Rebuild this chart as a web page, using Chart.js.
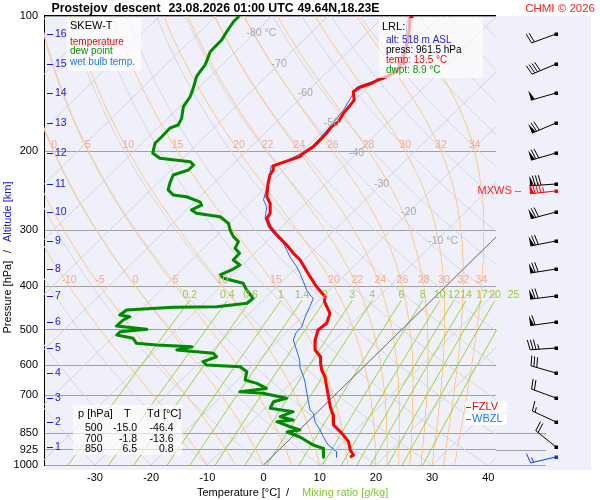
<!DOCTYPE html>
<html>
<head>
<meta charset="utf-8">
<script src="https://cdn.jsdelivr.net/npm/chart.js@4.4.1/dist/chart.umd.min.js"></script>
<style>
  html, body { margin: 0; padding: 0; background: #fff; }
  canvas { display: block; }
</style>
</head>
<body>
<canvas id="skewt" width="600" height="500"></canvas>
<script>
// axis ticks
const pressureTicks = [100, 200, 300, 400, 500, 600, 700, 850, 925, 1000];
const tempTicks = [-30, -20, -10, 0, 10, 20, 30, 40];

// sounding (hPa / °C)
const tempP = [100, 101.2, 113.1, 123.2, 129.7, 133.1, 135.3, 137.6, 138.8, 141.2, 144.1, 147.4, 153.9, 157.9, 164.8, 171.9, 176.4, 182.5, 188.8, 195.4, 202.1, 205.7, 209.2, 215.6, 220.3, 226.0, 235.9, 252.7, 261.4, 275.1, 282.2, 294.6, 307.3, 323.6, 337.7, 349.4, 380.7, 400.9, 421.8, 432.7, 459.5, 483.3, 500.4, 526.6, 554.5, 574.0, 593.7, 614.3, 635.9, 669.0, 698.3, 741.6, 773.8, 814.6, 850.0, 887.3, 926.0, 950.0, 961.5];
const tempT = [-54.9, -55.0, -51.4, -49.2, -48.0, -47.7, -48.3, -48.9, -49.5, -50.0, -51.4, -51.8, -50.1, -49.9, -49.6, -49.0, -49.3, -49.0, -48.9, -48.9, -49.5, -49.5, -50.6, -52.6, -51.8, -51.5, -50.3, -48.1, -46.3, -44.5, -44.2, -42.1, -39.4, -35.8, -33.1, -30.7, -25.9, -22.9, -19.6, -18.8, -15.7, -14.5, -14.8, -13.5, -11.7, -9.5, -8.3, -6.9, -5.1, -3.0, -1.2, 1.3, 3.3, 5.2, 8.2, 10.9, 12.7, 14.2, 14.0];

const dewP = [100, 103.0, 108.4, 113.1, 120.1, 128.5, 133.1, 136.5, 144.8, 151.3, 159.2, 169.0, 174.9, 177.8, 185.7, 192.1, 202.1, 207.4, 211.1, 214.7, 220.3, 226.0, 235.9, 244.0, 250.3, 252.7, 259.3, 263.7, 270.4, 275.1, 279.9, 289.6, 299.7, 310.1, 318.1, 329.1, 337.7, 349.4, 358.5, 367.8, 377.4, 383.8, 387.2, 393.8, 407.5, 425.3, 436.3, 444.0, 445.4, 451.6, 463.4, 467.4, 475.4, 490.3, 498.6, 504.8, 513.4, 522.2, 535.8, 540.5, 545.3, 554.5, 564.0, 574.0, 588.8, 598.9, 604.1, 619.8, 646.7, 657.8, 675.2, 687.1, 692.2, 710.2, 722.9, 747.6, 760.9, 780.6, 794.0, 800.8, 821.9, 835.5, 844.4, 866.2, 902.6, 918.0, 961.5];
const dewT = [-85.8, -85.8, -85.2, -84.6, -84.5, -83.0, -82.7, -82.4, -80.9, -79.9, -79.3, -77.5, -76.9, -77.8, -77.7, -77.7, -76.3, -74.1, -68.1, -66.9, -66.9, -68.7, -67.8, -66.9, -65.1, -62.4, -59.1, -58.2, -59.1, -57.6, -52.8, -50.1, -48.6, -46.8, -45.0, -44.4, -42.7, -42.6, -40.5, -41.1, -42.2, -41.0, -39.5, -36.6, -34.8, -32.1, -32.3, -37.1, -44.7, -52.5, -52.8, -50.7, -51.3, -51.4, -45.4, -49.7, -49.7, -46.2, -44.7, -40.8, -34.2, -36.3, -29.2, -28.0, -29.5, -28.3, -22.0, -19.9, -18.7, -16.0, -13.4, -17.5, -13.1, -8.0, -9.7, -9.1, -4.4, -5.8, -2.9, -5.5, -2.2, 0.1, -1.8, 1.4, 5.2, 7.6, 9.3];

const wetP = [100, 103.8, 115.0, 129.7, 133.1, 137.6, 144.1, 151.3, 162.0, 174.9, 188.8, 195.4, 202.1, 209.2, 215.9, 224.0, 240.0, 256.9, 265.9, 282.2, 294.6, 304.8, 320.8, 343.7, 361.7, 374.1, 407.5, 421.8, 425.3, 444.0, 467.4, 492.0, 508.2, 526.6, 554.5, 584.0, 608.0, 635.9, 657.8, 692.2, 722.9, 754.3, 767.2, 800.8, 835.5, 864.9, 902.6, 934.1, 961.5];
const wetT = [-55.4, -54.7, -51.2, -48.4, -48.0, -49.2, -52.0, -51.2, -50.2, -49.6, -49.3, -49.2, -49.8, -51.0, -52.9, -51.8, -49.9, -48.1, -46.3, -44.5, -42.4, -40.3, -36.7, -33.1, -30.1, -28.3, -24.1, -22.0, -21.4, -20.5, -19.5, -18.3, -18.2, -17.4, -15.0, -12.6, -11.1, -8.9, -7.4, -5.3, -3.5, -1.7, -0.5, 1.3, 3.7, 5.5, 7.9, 10.6, 11.6];

// altitude marks (km) and the pressure where they sit
const altKm = [16, 15, 14, 13, 12, 11, 10, 9, 8, 7, 6, 5, 4, 3, 2, 1];
const altP = [109.4, 127.9, 148.8, 173.1, 202.4, 236.7, 273.9, 317.0, 366.0, 420.3, 481.5, 548.0, 624.9, 711.0, 803.3, 910.5];

// winds at the altitude marks
const windDir = [250, 247, 254, 247, 254, 266, 255, 259, 261, 263, 262, 266, 286, 290, 295, 309];
const windSpd = [20, 40, 50, 70, 70, 80, 70, 70, 70, 70, 60, 35, 30, 20, 15, 20];
const mxwsP = 244.9, mxwsDir = 264, mxwsSpd = 85;
const sfcP = 961.5, sfcDir = 257, sfcSpd = 15;

// special levels
const levelNames = ['FZLV', 'WBZL'];
const levelP = [742, 791];

// background line families
const isotherms = [-120, -110, -100, -90, -80, -70, -60, -50, -40, -30, -20, -10, 0, 10, 20, 30, 40];
const isoLabels = [-80, -70, -60, -50, -40, -30, -20, -10];
const dryTheta = [-40, -30, -20, -10, 0, 10, 20, 30, 40, 50, 60, 70, 80, 90, 100, 110, 120, 130, 140, 150, 160, 170, 180];
const moistThetaW = [-10, -5, 0, 5, 10, 15, 20, 22, 24, 26, 28, 30, 32, 34];
const mixRatios = [0.2, 0.4, 0.6, 1, 1.4, 2, 3, 4, 6, 8, 10, 12, 14, 17, 20, 25];

// standard level table
const tableP = ['500', '700', '850'];
const tableT = ['-15.0', '-1.8', '6.5'];
const tableTd = ['-46.4', '-13.6', '0.8'];

const K = 81.5;                       // skew, °C per decade of pressure
const XMIN = -39.06, XMAX = 41.37;
const FONT = '"Liberation Sans", Arial, sans-serif';
const font = (s, b) => (b ? 'bold ' : '') + s + 'px ' + FONT;

function skewX(t, p) { return t + K * Math.log10(1000 / p); }
function toPoints(ps, ts) { return ps.map((p, i) => ({ x: skewX(ts[i], p), y: p })); }

function satVap(tc) { return 6.112 * Math.exp(17.67 * tc / (tc + 243.5)); }
function moistLapse(T, p) {
    const Rd = 287.04, Cp = 1005.7, Lv = 2.501e6, eps = 0.622;
    const es = satVap(T - 273.15);
    const rs = eps * es / (p - es);
    return (Rd * T + Lv * rs) / (Cp + Lv * Lv * rs * eps / (Rd * T * T)) / p;
}
function moistCurve(tw) {
    const out = [];
    let T = tw + 273.15;
    for (let p = 1000; p >= 100; p -= 5) {
        out.push({ p: p, t: T - 273.15 });
        const k1 = moistLapse(T, p);
        const k2 = moistLapse(T - k1 * 2.5, p - 2.5);
        T -= k2 * 5;
    }
    return out;
}
function mixTd(w, p) {
    const e = w * p / (622 + w);
    const l = Math.log(e / 6.112);
    return 243.5 * l / (17.67 - l);
}

const datasets = [];
function addLine(data, color, width, order, extra) {
    datasets.push(Object.assign({
        data: data, showLine: true, borderColor: color, borderWidth: width,
        pointRadius: 0, fill: false, tension: 0, order: order,
        borderJoinStyle: 'round'
    }, extra || {}));
}

// measured curves on top
addLine(toPoints(tempP, tempT), '#ff0000', 3, 1);
addLine(toPoints(dewP, dewT), '#008a00', 3, 2);
addLine(toPoints(wetP, wetT), '#2266ff', 1, 3);

// reference lines
addLine([{ x: skewX(0, 1000), y: 1000 }, { x: skewX(0, 100), y: 100 }], '#6e6e6e', 1, 10);
isotherms.forEach(t => addLine([{ x: skewX(t, 1000), y: 1000 }, { x: skewX(t, 100), y: 100 }], '#d2d2da', 1, 30));
dryTheta.forEach(th => {
    const d = [];
    for (let p = 1000; p >= 100; p -= 10) d.push({ x: skewX((th + 273.15) * Math.pow(p / 1000, 0.2857) - 273.15, p), y: p });
    addLine(d, '#d6d6de', 1, 31);
});
const moistCurves = {};
moistThetaW.forEach(tw => {
    const c = moistCurve(tw);
    moistCurves[tw] = c;
    addLine(c.map(o => ({ x: skewX(o.t, o.p), y: o.p })), '#ffc882', 1, 25);
});
mixRatios.forEach(w => {
    const d = [];
    for (let p = 1000; p >= 430; p -= 10) d.push({ x: skewX(mixTd(w, p), p), y: p });
    addLine(d, '#9ad23c', 1, 20, { clip: { left: 0, top: 0, right: 94, bottom: 0 } });
});

function drawBarb(ctx, x0, y0, dir, spd, color) {
    const r = dir * Math.PI / 180;
    const ux = Math.sin(r), uy = -Math.cos(r);
    const nx = -uy, ny = ux;
    const L = 26, F = 10, gap = 3;
    const tx = x0 + ux * L, ty = y0 + uy * L;
    ctx.strokeStyle = color; ctx.fillStyle = color; ctx.lineWidth = 1;
    ctx.beginPath(); ctx.moveTo(x0, y0); ctx.lineTo(tx, ty); ctx.stroke();
    ctx.fillRect(x0 - 1.5, y0 - 1.5, 3.5, 3.5);
    let s = Math.round(spd / 5) * 5;
    let pos = 0;
    while (s >= 50) {
        const bx = tx - ux * pos, by = ty - uy * pos;
        ctx.beginPath();
        ctx.moveTo(bx, by);
        ctx.lineTo(bx + nx * F, by + ny * F);
        ctx.lineTo(bx - ux * 4, by - uy * 4);
        ctx.closePath(); ctx.fill();
        pos += 5; s -= 50;
    }
    while (s >= 10) {
        const bx = tx - ux * pos, by = ty - uy * pos;
        ctx.beginPath(); ctx.moveTo(bx, by); ctx.lineTo(bx + nx * F + ux * 2, by + ny * F + uy * 2); ctx.stroke();
        pos += gap; s -= 10;
    }
    if (s >= 5) {
        if (pos === 0) pos = gap;
        const bx = tx - ux * pos, by = ty - uy * pos;
        ctx.beginPath(); ctx.moveTo(bx, by); ctx.lineTo(bx + nx * F / 2 + ux, by + ny * F / 2 + uy); ctx.stroke();
    }
}

const background = {
    id: 'background',
    beforeDraw(chart) {
        const ctx = chart.ctx;
        ctx.save();
        ctx.fillStyle = '#ffffff';
        ctx.fillRect(0, 0, chart.width, chart.height);
        ctx.fillStyle = '#f0f0fa';
        ctx.fillRect(44, 16, 547, 454);
        ctx.restore();
    }
};

const overlay = {
    id: 'overlay',
    afterDatasetsDraw(chart) {
        const ctx = chart.ctx, a = chart.chartArea;
        const xs = chart.scales.x, ys = chart.scales.y;
        const px = (t, p) => xs.getPixelForValue(skewX(t, p));
        const py = p => ys.getPixelForValue(p);
        ctx.save();
        ctx.textBaseline = 'middle';

        // pressure lines that run on under the barbs
        ctx.strokeStyle = '#a0a0a0'; ctx.lineWidth = 1;
        [850, 925, 1000].forEach(p => {
            const y = Math.round(py(p)) + 0.5;
            ctx.beginPath(); ctx.moveTo(a.right, y); ctx.lineTo(546, y); ctx.stroke();
        });
        // top frame line
        ctx.strokeStyle = '#000';
        ctx.beginPath(); ctx.moveTo(a.left, a.top - 0.5); ctx.lineTo(a.right, a.top - 0.5); ctx.stroke();

        // isotherm labels
        ctx.font = font(10.5); ctx.fillStyle = '#a8a8a8';
        isoLabels.forEach((t, i) => {
            const p = altP[i];
            const x = px(t, p), y = py(p);
            ctx.textAlign = 'center';
            ctx.fillText(String(t), x, y);
            if (i === 0 || i === isoLabels.length - 1) {
                const w = ctx.measureText(String(t)).width;
                ctx.textAlign = 'left';
                ctx.fillText(' °C', x + w / 2, y);
            }
        });

        // moist adiabat labels at 200 and 400 hPa
        ctx.font = font(10.5); ctx.fillStyle = '#f5a88c'; ctx.textAlign = 'center'; ctx.textBaseline = 'bottom';
        [200, 400].forEach(lp => {
            moistThetaW.forEach(tw => {
                const o = moistCurves[tw].find(q => Math.abs(q.p - lp) < 0.1);
                const x = px(o.t, lp);
                if (x > a.left + 5 && x < a.right - 4) ctx.fillText(String(tw), x, py(lp) - 0.5);
            });
        });
        // mixing ratio labels
        ctx.fillStyle = '#96cc3a';
        mixRatios.forEach(w => {
            const x = px(mixTd(w, 430), 430);
            if (x > a.left + 5 && x < 585) ctx.fillText(String(w), x, py(430) - 0.5);
        });
        ctx.textBaseline = 'middle';

        // altitude marks
        ctx.font = font(10.5); ctx.fillStyle = '#1414f0'; ctx.strokeStyle = '#1414f0'; ctx.textAlign = 'left';
        altKm.forEach((km, i) => {
            const y = Math.round(py(altP[i])) + 0.5;
            ctx.beginPath(); ctx.moveTo(47, y); ctx.lineTo(53, y); ctx.stroke();
            ctx.fillText(String(km), 55, y);
        });

        // legend box
        ctx.fillStyle = 'rgba(255,255,255,0.72)';
        ctx.fillRect(67, 18, 74, 53);
        ctx.font = font(11); ctx.fillStyle = '#000'; ctx.fillText('SKEW-T', 70, 26);
        ctx.font = font(10);
        ctx.fillStyle = '#ff0000'; ctx.fillText('temperature', 70, 42);
        ctx.fillStyle = '#009900'; ctx.fillText('dew point', 70, 51.7);
        ctx.fillStyle = '#1e78ff'; ctx.fillText('wet bulb temp.', 70, 62);

        // LRL box
        ctx.fillStyle = 'rgba(255,255,255,0.65)';
        ctx.fillRect(379, 18, 104, 60);
        ctx.font = font(11); ctx.fillStyle = '#000'; ctx.fillText('LRL:', 382, 26.7);
        ctx.font = font(10);
        ctx.fillStyle = '#2020ff'; ctx.fillText('alt: 518 m ASL', 386, 40);
        ctx.fillStyle = '#000'; ctx.fillText('press: 961.5 hPa', 386, 50);
        ctx.fillStyle = '#ff0000'; ctx.fillText('temp: 13.5 °C', 386, 60);
        ctx.fillStyle = '#009900'; ctx.fillText('dwpt: 8.9 °C', 386, 70);

        // standard level table
        ctx.fillStyle = 'rgba(255,255,255,0.65)';
        ctx.fillRect(73, 405, 109, 50);
        ctx.fillStyle = '#000'; ctx.font = font(11);
        ctx.fillText('p [hPa]', 78, 413.5);
        ctx.fillText('T', 124, 413.5);
        ctx.fillText('Td [°C]', 147, 413.5);
        ctx.font = font(10.5); ctx.textAlign = 'right';
        const rowY = [428.3, 439, 449.3];
        tableP.forEach((p, i) => {
            ctx.fillText(p, 102.5, rowY[i]);
            ctx.fillText(tableT[i], 137, rowY[i]);
            ctx.fillText(tableTd[i], 173.5, rowY[i]);
        });
        ctx.textAlign = 'left';

        // freezing / wet bulb zero levels
        ctx.font = font(11);
        levelNames.forEach((n, i) => {
            const y = py(levelP[i]);
            const col = i === 0 ? '#ff0000' : '#1e78ff';
            ctx.fillStyle = 'rgba(255,255,255,0.9)';
            ctx.fillRect(465, y - 5.5, 42, 11);
            ctx.strokeStyle = col; ctx.fillStyle = col;
            ctx.beginPath(); ctx.moveTo(466, Math.round(y) + 0.5); ctx.lineTo(471, Math.round(y) + 0.5); ctx.stroke();
            ctx.fillText(n, 472, y);
        });

        // wind barbs
        const bx = 556;
        altKm.forEach((km, i) => drawBarb(ctx, bx, Math.round(py(altP[i])), windDir[i], windSpd[i], '#000'));
        drawBarb(ctx, bx, Math.round(py(mxwsP)), mxwsDir, mxwsSpd, '#ff0000');
        drawBarb(ctx, bx, Math.round(py(sfcP)), sfcDir, sfcSpd, '#1030ff');
        ctx.font = font(11); ctx.fillStyle = '#ff2020'; ctx.textAlign = 'right';
        ctx.fillText('MXWS \u2013', 521, py(mxwsP));

        // title
        ctx.textBaseline = 'alphabetic'; ctx.textAlign = 'left';
        ctx.font = font(12.3, true); ctx.fillStyle = '#000';
        [['Prostejov', 51.5], ['descent', 114], ['23.08.2026 01:00 UTC', 168.5], ['49.64N,18.23E', 297.5]]
            .forEach(([s, x]) => ctx.fillText(s, x, 11.5));
        ctx.font = font(11.5); ctx.fillStyle = '#ff2020'; ctx.textAlign = 'right';
        ctx.fillText('CHMI \u00a9 2026', 595, 11.5);

        // axis titles
        ctx.textBaseline = 'middle'; ctx.textAlign = 'left'; ctx.font = font(11);
        ctx.fillStyle = '#000'; ctx.fillText('Temperature [°C]', 197, 493);
        ctx.fillText('/', 286, 493);
        ctx.fillStyle = '#7ccc2c'; ctx.fillText('Mixing ratio [g/kg]', 302, 493);
        ctx.translate(8, 0); ctx.rotate(-Math.PI / 2);
        ctx.fillStyle = '#000'; ctx.fillText('Pressure [hPa]', -333.5, 0);
        ctx.fillText('/', -253, 0);
        ctx.fillStyle = '#1414f0'; ctx.fillText('Altitude [km]', -242, 0);
        ctx.restore();
    }
};

new Chart(document.getElementById('skewt').getContext('2d'), {
    type: 'scatter',
    data: { datasets: datasets },
    options: {
        responsive: false,
        animation: false,
        devicePixelRatio: 1,
        events: [],
        layout: { padding: { top: 16, right: 104, left: 0, bottom: 0 } },
        plugins: { legend: { display: false }, tooltip: { enabled: false } },
        scales: {
            x: {
                type: 'linear', min: XMIN, max: XMAX,
                afterBuildTicks: s => { s.ticks = tempTicks.map(v => ({ value: v })); },
                afterFit: s => { s.height = 35; },
                grid: { display: false, drawTicks: false },
                border: { display: false },
                ticks: { autoSkip: false, maxRotation: 0, padding: 6, color: '#000', font: { family: FONT, size: 11 }, callback: v => String(v) }
            },
            y: {
                type: 'logarithmic', reverse: true, min: 100, max: 1000,
                afterBuildTicks: s => { s.ticks = pressureTicks.map(v => ({ value: v })); },
                afterFit: s => { s.width = 44; },
                grid: { color: '#a0a0a0', lineWidth: 1, drawTicks: false },
                border: { display: true, color: '#000' },
                ticks: { autoSkip: false, padding: 6, color: '#000', font: { family: FONT, size: 11 }, callback: v => String(v) }
            }
        }
    },
    plugins: [background, overlay]
});
</script>
</body>
</html>
